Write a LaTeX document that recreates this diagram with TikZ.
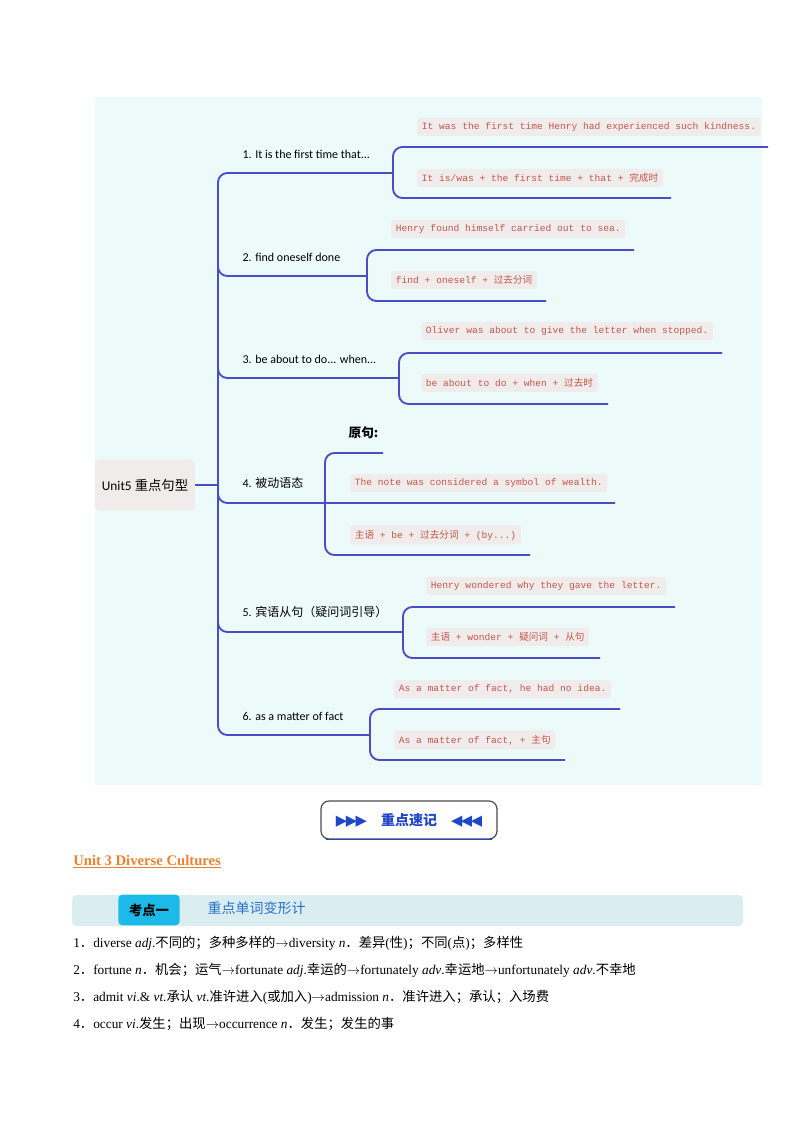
\documentclass[tikz,border=0pt]{standalone}
\usepackage{fontspec}
\setmainfont{Liberation Serif}
\newfontfamily\cjk{Noto Sans CJK SC}
\newfontfamily\mapfont{Carlito}
\newfontfamily\codefont{Liberation Mono}
\newfontfamily\symfont{DejaVu Sans}
\usetikzlibrary{positioning}
\definecolor{mapblue}{RGB}{72,78,196}
\definecolor{mapbg}{RGB}{236,251,250}
\definecolor{codered}{RGB}{196,86,72}
\definecolor{codebg}{RGB}{240,236,236}
\definecolor{unitorange}{RGB}{240,128,48}
\definecolor{bandblue}{RGB}{218,238,242}
\definecolor{tabcyan}{RGB}{28,186,232}
\definecolor{headblue}{RGB}{42,110,200}
\definecolor{bannerblue}{RGB}{30,70,200}
\tikzset{
  mapline/.style={draw=mapblue, line width=1.4pt, rounded corners=7pt},
  branch/.style={anchor=south west, inner sep=1pt, font=\mapfont\fontsize{9}{11}\selectfont},
  sample/.style={anchor=west, fill=codebg, text=codered, inner sep=3.5pt, rounded corners=2pt, font=\codefont\fontsize{7.2}{9}\selectfont},
  bodyline/.style={anchor=west, inner sep=0pt, font=\fontsize{10}{12}\selectfont},
}
\begin{document}
\begin{tikzpicture}[x=0.75pt,y=0.75pt,yscale=-1,xscale=1]
\useasboundingbox (0,0) rectangle (800,1132);
% mind map background
\fill [mapbg] (95,97) rectangle (762,785);
\node (root) [fill=codebg, rounded corners=3pt, minimum width=75pt, minimum height=38pt, font=\mapfont\fontsize{10}{12}\selectfont] at (145,485) {Unit5 {\cjk 重点句型}};
\draw [mapline] (root.east) -- (218,485);
% trunk and branches
\draw [mapline] (393,173) -- (218,173) -- (218,735) -- (370,735);
\draw [mapline] (218,255) -- (218,276) -- (367,276);
\draw [mapline] (218,358) -- (218,378) -- (399,378);
\draw [mapline] (218,483) -- (218,503) -- (615,503);
\draw [mapline] (218,612) -- (218,632) -- (403,632);
% brackets
\draw [mapline] (768,147) -- (393,147) -- (393,198) -- (671,198);
\draw [mapline] (634,250) -- (367,250) -- (367,301) -- (546,301);
\draw [mapline] (722,353) -- (399,353) -- (399,404) -- (608,404);
\draw [mapline] (383,453) -- (325,453) -- (325,555) -- (530,555);
\draw [mapline] (675,607) -- (403,607) -- (403,658) -- (600,658);
\draw [mapline] (620,709) -- (370,709) -- (370,760) -- (565,760);
% branch labels
\node (b1) [branch] at (241,160) {1. It is the first time that...};
\node (b2) [branch] at (241,263) {2. find oneself done};
\node (b3) [branch] at (241,365) {3. be about to do... when...};
\node (b4) [branch] at (241,490) {4. {\cjk 被动语态}};
\node (b5) [branch] at (241,619) {5. {\cjk 宾语从句（疑问词引导）}};
\node (b6) [branch] at (241,722) {6. as a matter of fact};
\node (orig) [branch, font=\cjk\bfseries\fontsize{9.5}{11}\selectfont] at (347,440) {原句:};
% samples
\node (s1a) [sample] at (417,127) {It was the first time Henry had experienced such kindness.};
\node (s1b) [sample] at (417,178) {It is/was + the first time + that + {\cjk 完成时}};
\node (s2a) [sample] at (391,229) {Henry found himself carried out to sea.};
\node (s2b) [sample] at (391,280) {find + oneself + {\cjk 过去分词}};
\node (s3a) [sample] at (421,331) {Oliver was about to give the letter when stopped.};
\node (s3b) [sample] at (421,383) {be about to do + when + {\cjk 过去时}};
\node (s4a) [sample] at (350,483) {The note was considered a symbol of wealth.};
\node (s4b) [sample] at (350,535) {{\cjk 主语} + be + {\cjk 过去分词} + (by...)};
\node (s5a) [sample] at (426,586) {Henry wondered why they gave the letter.};
\node (s5b) [sample] at (426,637) {{\cjk 主语} + wonder + {\cjk 疑问词} + {\cjk 从句}};
\node (s6a) [sample] at (394,689) {As a matter of fact, he had no idea.};
\node (s6b) [sample] at (394,740) {As a matter of fact, + {\cjk 主句}};
% banner
\draw [draw=black!70, line width=0.9pt, rounded corners=6pt] (321,801) rectangle (497,839);
\draw [bannerblue, line width=1.4pt] (326,839.5) -- (492,839.5);
\node (banner) [text=bannerblue, font=\fontsize{10.5}{12}\selectfont] at (409,820) {{\symfont\fontsize{11}{12}\selectfont ▶\kern-1pt▶\kern-1pt▶}\quad{\cjk\bfseries 重点速记}\quad{\symfont\fontsize{11}{12}\selectfont ◀\kern-1pt◀\kern-1pt◀}};
% unit title
\node (unit) [anchor=west, inner sep=0pt, text=unitorange, font=\bfseries\fontsize{11}{13}\selectfont] at (73,862) {\underline{Unit 3 Diverse Cultures}};
% band
\fill [bandblue, rounded corners=3pt] (72,895) rectangle (743,926);
\node (tab) [fill=tabcyan, rounded corners=3pt, minimum width=46pt, minimum height=23pt, font=\cjk\bfseries\fontsize{10}{12}\selectfont] at (149,910) {考点一};
\node (head) [anchor=west, text=headblue, font=\cjk\fontsize{10.5}{12}\selectfont] at (203,908) {重点单词变形计};
% word list
\node (w1) [bodyline] at (73,943) {1{\cjk ．}diverse \textit{adj}.{\cjk 不同的；多种多样的}$\rightarrow$diversity \textit{n}{\cjk ．差异}({\cjk 性}){\cjk ；不同}({\cjk 点}){\cjk ；多样性}};
\node (w2) [bodyline] at (73,970) {2{\cjk ．}fortune \textit{n}{\cjk ．机会；运气}$\rightarrow$fortunate \textit{adj}.{\cjk 幸运的}$\rightarrow$fortunately \textit{adv}.{\cjk 幸运地}$\rightarrow$unfortunately \textit{adv}.{\cjk 不幸地}};
\node (w3) [bodyline] at (73,997) {3{\cjk ．}admit \textit{vi}.\& \textit{vt}.{\cjk 承认} \textit{vt}.{\cjk 准许进入}({\cjk 或加入})$\rightarrow$admission \textit{n}{\cjk ．准许进入；承认；入场费}};
\node (w4) [bodyline] at (73,1024) {4{\cjk ．}occur \textit{vi}.{\cjk 发生；出现}$\rightarrow$occurrence \textit{n}{\cjk ．发生；发生的事}};
\end{tikzpicture}
\end{document}
